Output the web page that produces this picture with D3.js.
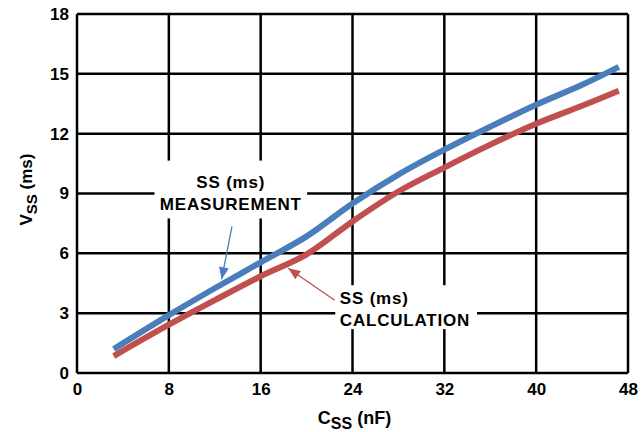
<!DOCTYPE html>
<html>
<head>
<meta charset="utf-8">
<script src="https://cdn.jsdelivr.net/npm/d3@7"></script>
<style>
  body { margin: 0; background: #fff; }
  text { font-family: "Liberation Sans", Arial, sans-serif; font-weight: bold; fill: #000; }
</style>
</head>
<body>
<script>
// C_SS in nF
var cssValues = [3.2, 8, 12, 16, 20, 24, 28, 32, 36, 40, 44, 47.2];
// soft-start time, measured vs calculated (ms)
var measured = [1.2, 2.9, 4.25, 5.55, 6.85, 8.5, 9.95, 11.2, 12.35, 13.45, 14.45, 15.35];
var calculated = [0.85, 2.42, 3.65, 4.85, 5.95, 7.6, 9.1, 10.3, 11.45, 12.5, 13.4, 14.15];
var xTicks = [0, 8, 16, 24, 32, 40, 48];
var yTicks = [0, 3, 6, 9, 12, 15, 18];

var margin = {top: 14, right: 16, bottom: 59, left: 77};
var graphWidth = 644 - margin.left - margin.right;
var graphHeight = 432 - margin.top - margin.bottom;

var svg = d3.select("body").append("svg")
    .attr("width", 644)
    .attr("height", 432);

var graph = svg.append("g")
    .attr("transform", "translate(" + margin.left + "," + margin.top + ")");

var x = d3.scaleLinear().domain([0, 48]).range([0, graphWidth]);
var y = d3.scaleLinear().domain([0, 18]).range([graphHeight, 0]);

// grid
graph.append("g").selectAll("line")
    .data(xTicks)
    .enter().append("line")
    .attr("x1", d => x(d)).attr("x2", d => x(d))
    .attr("y1", 0).attr("y2", graphHeight)
    .attr("stroke", "#000").attr("stroke-width", 2.5);

graph.append("g").selectAll("line")
    .data(yTicks)
    .enter().append("line")
    .attr("x1", 0).attr("x2", graphWidth)
    .attr("y1", d => y(d)).attr("y2", d => y(d))
    .attr("stroke", "#000").attr("stroke-width", 2.5);

// axes (labels only, lines come from the grid)
var xAxis = d3.axisBottom(x).tickValues(xTicks).tickSize(0).tickPadding(10);
var yAxis = d3.axisLeft(y).tickValues(yTicks).tickSize(0).tickPadding(8);

var xAxisGroup = graph.append("g")
    .attr("transform", "translate(0," + graphHeight + ")")
    .call(xAxis);
var yAxisGroup = graph.append("g").call(yAxis);

[xAxisGroup, yAxisGroup].forEach(function(g){
    g.select(".domain").remove();
    g.selectAll("text")
        .attr("fill", "#000")
        .attr("font-family", "Liberation Sans, Arial, sans-serif")
        .attr("font-weight", "bold")
        .attr("font-size", "17px");
});

// series
var line = d3.line()
    .x(d => x(d[0]))
    .y(d => y(d[1]))
    .curve(d3.curveCatmullRom);

graph.append("path")
    .datum(cssValues.map((c, i) => [c, calculated[i]]))
    .attr("d", line)
    .attr("fill", "none")
    .attr("stroke", "#c0504d")
    .attr("stroke-width", 6);

graph.append("path")
    .datum(cssValues.map((c, i) => [c, measured[i]]))
    .attr("d", line)
    .attr("fill", "none")
    .attr("stroke", "#4a7ebb")
    .attr("stroke-width", 6);

// annotations
var defs = svg.append("defs");
function addHead(id, color){
    defs.append("marker")
        .attr("id", id)
        .attr("viewBox", "0 0 12 10")
        .attr("refX", 12).attr("refY", 5)
        .attr("markerUnits", "userSpaceOnUse")
        .attr("markerWidth", 13).attr("markerHeight", 10)
        .attr("orient", "auto")
        .append("path")
        .attr("d", "M0,0 L12,5 L0,10 Z")
        .attr("fill", color);
}
addHead("headBlue", "#4a7ebb");
addHead("headRed", "#c0504d");

var notes = [
    {lines: ["SS (ms)", "MEASUREMENT"], anchor: "middle", tx: 13.4, ty: 9.3,
     box: [6.75, 7.75, 20.05, 10.65], from: [13.5, 7.35], to: [12.6, 4.7], color: "#4a7ebb", head: "headBlue"},
    {lines: ["SS (ms)", "CALCULATION"], anchor: "start", tx: 22.9, ty: 3.45,
     box: [22.5, 2.2, 34.85, 4.4], from: [22.45, 3.65], to: [18.4, 5.25], color: "#c0504d", head: "headRed"}
];

notes.forEach(function(n){
    graph.append("rect")
        .attr("x", x(n.box[0])).attr("y", y(n.box[3]))
        .attr("width", x(n.box[2]) - x(n.box[0]))
        .attr("height", y(n.box[1]) - y(n.box[3]))
        .attr("fill", "#fff");

    graph.append("line")
        .attr("x1", x(n.from[0])).attr("y1", y(n.from[1]))
        .attr("x2", x(n.to[0])).attr("y2", y(n.to[1]))
        .attr("stroke", n.color)
        .attr("stroke-width", 1.3)
        .attr("marker-end", "url(#" + n.head + ")");

    var t = graph.append("text")
        .attr("text-anchor", n.anchor)
        .attr("font-size", "17px")
        .attr("letter-spacing", "0.8px");
    n.lines.forEach(function(s, i){
        t.append("tspan")
            .attr("x", x(n.tx))
            .attr("y", y(n.ty) + i * 22)
            .text(s);
    });
});

// axis titles
var xt = svg.append("text")
    .attr("transform", "translate(" + (margin.left + x(24) + 2) + ",424)")
    .attr("text-anchor", "middle")
    .attr("font-size", "18px");
xt.append("tspan").text("C");
xt.append("tspan").attr("font-size", "16px").attr("dy", 5).text("SS");
xt.append("tspan").attr("dy", -5).text(" (nF)");

var yt = svg.append("text")
    .attr("transform", "translate(32," + (margin.top + y(9.2)) + ")rotate(-90)")
    .attr("text-anchor", "middle")
    .attr("font-size", "17px");
yt.append("tspan").text("V");
yt.append("tspan").attr("font-size", "15px").attr("dy", 5).text("SS");
yt.append("tspan").attr("dy", -5).text(" (ms)");
</script>
</body>
</html>
